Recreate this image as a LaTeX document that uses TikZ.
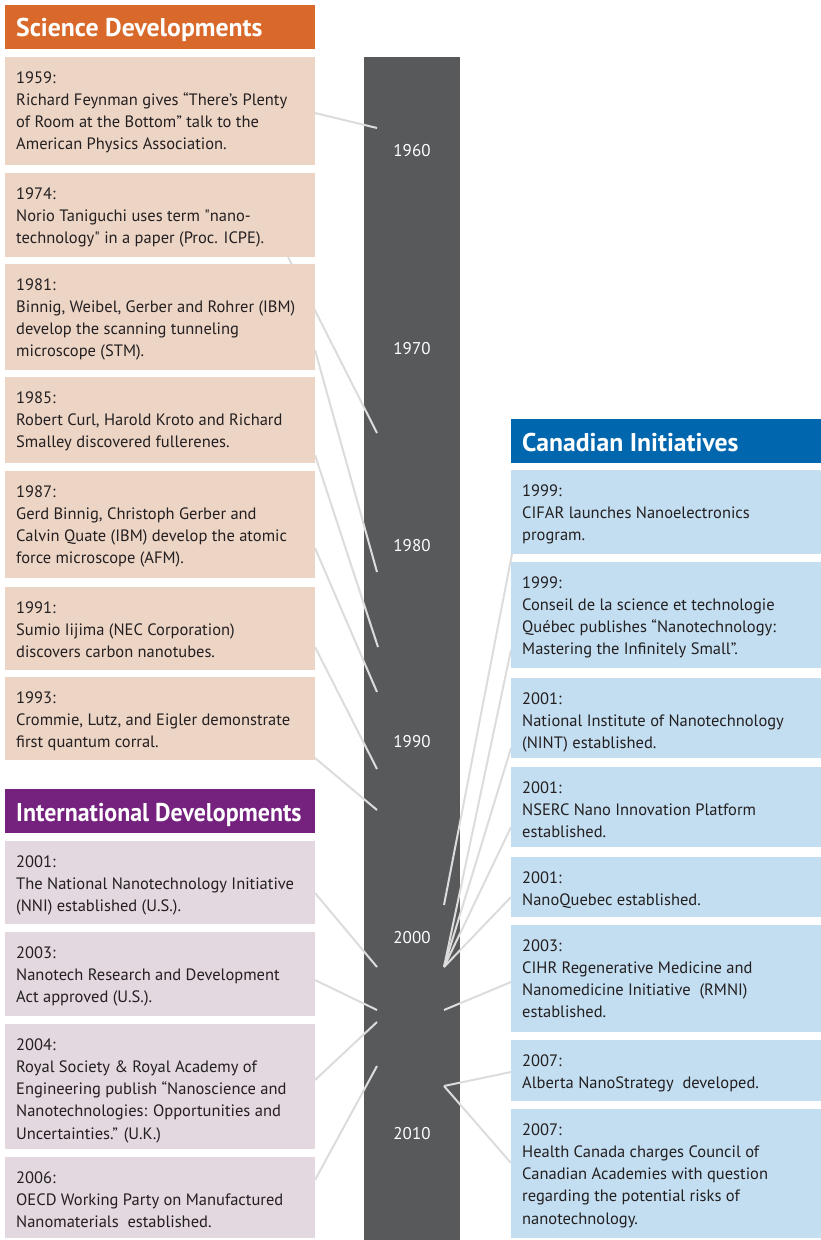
\documentclass[tikz,border=0pt]{standalone}
\usepackage{fontspec}
\setmainfont{PT Sans}
\usetikzlibrary{calc}
\definecolor{orangeH}{HTML}{D9692A}
\definecolor{peach}{HTML}{EDD5C6}
\definecolor{purpleH}{HTML}{74227E}
\definecolor{lilac}{HTML}{E3D7E0}
\definecolor{blueH}{HTML}{0066AD}
\definecolor{lightblue}{HTML}{C3DEF1}
\definecolor{barc}{HTML}{58595B}
\definecolor{connc}{HTML}{DCDCDC}
\definecolor{textc}{HTML}{231F20}
\newcommand\sq{{\addfontfeatures{Ligatures=TeXOff}"}}
\pgfdeclarelayer{bg}
\pgfdeclarelayer{lines}
\pgfsetlayers{bg,lines,main}
\tikzset{
  evbox/.style={anchor=north west, inner sep=0, outer sep=0, minimum width=310},
  scibox/.style={evbox, fill=peach},
  intbox/.style={evbox, fill=lilac},
  canbox/.style={evbox, fill=lightblue},
  headbox/.style={evbox, minimum height=44},
  headtxt/.style={anchor=base west, inner sep=0, text=white, font=\bfseries\fontsize{25.7}{30}\selectfont},
  body/.style={anchor=base west, inner sep=0, text=textc, font=\fontsize{16.5}{22.3}\selectfont},
  yearlab/.style={inner sep=0, text=white, font=\fontsize{17}{20}\selectfont},
  conn/.style={draw=connc, line width=2pt},
}
\newcommand\evbx[5]{\node[#2, minimum height={#5-#4}] (#1) at (#3,#4) {};
  \node[body] (#1t) at ([xshift=11,yshift=-26]#1.north west) {\begin{tabular}[t]{@{}l@{}}\evtxt\end{tabular}};}
\begin{document}
\begin{tikzpicture}[x=1pt,y=-1pt]
\useasboundingbox (0,0) rectangle (821,1240);
% bar
\begin{pgfonlayer}{bg}
\node[fill=barc, inner sep=0, minimum width=96, minimum height=1183] (bar) at (412,648.5) {};
\end{pgfonlayer}
\node[yearlab] (y1960) at (412,151) {1960};
\node[yearlab] (y1970) at (412,349) {1970};
\node[yearlab] (y1980) at (412,546) {1980};
\node[yearlab] (y1990) at (412,742) {1990};
\node[yearlab] (y2000) at (412,938) {2000};
\node[yearlab] (y2010) at (412,1134) {2010};
% headers
\node[headbox, fill=orangeH] (hsci) at (5,5) {};
\node[headtxt] (hscit) at (16,36) {Science Developments};
\node[headbox, fill=purpleH] (hint) at (5,789) {};
\node[headtxt] (hintt) at (16,821) {\scalebox{0.93}[1]{International Developments}};
\node[headbox, fill=blueH] (hcan) at (511,419) {};
\node[headtxt] (hcant) at (522,451) {Canadian Initiatives};
% science boxes
\def\evtxt{1959:\\Richard Feynman gives “There’s Plenty\\of Room at the Bottom” talk to the\\American Physics Association.}
\evbx{s1959}{scibox}{5}{57}{165}
\def\evtxt{1974:\\Norio Taniguchi uses term \sq nano-\\technology\sq{} in a paper (Proc. ICPE).}
\evbx{s1974}{scibox}{5}{173}{257}
\def\evtxt{1981:\\Binnig, Weibel, Gerber and Rohrer (IBM)\\develop the scanning tunneling\\microscope (STM).}
\evbx{s1981}{scibox}{5}{264}{370}
\def\evtxt{1985:\\Robert Curl, Harold Kroto and Richard\\Smalley discovered fullerenes.}
\evbx{s1985}{scibox}{5}{377}{463}
\def\evtxt{1987:\\Gerd Binnig, Christoph Gerber and\\Calvin Quate (IBM) develop the atomic\\force microscope (AFM).}
\evbx{s1987}{scibox}{5}{471}{578}
\def\evtxt{1991:\\Sumio Iijima (NEC Corporation)\\discovers carbon nanotubes.}
\evbx{s1991}{scibox}{5}{587}{670}
\def\evtxt{1993:\\Crommie, Lutz, and Eigler demonstrate\\first quantum corral.}
\evbx{s1993}{scibox}{5}{677}{760}
% international boxes
\def\evtxt{2001:\\The National Nanotechnology Initiative\\(NNI) established (U.S.).}
\evbx{i2001}{intbox}{5}{841}{924}
\def\evtxt{2003:\\Nanotech Research and Development\\Act approved (U.S.).}
\evbx{i2003}{intbox}{5}{932}{1016}
\def\evtxt{2004:\\Royal Society \& Royal Academy of\\Engineering publish “Nanoscience and\\Nanotechnologies: Opportunities and\\Uncertainties.” (U.K.)}
\evbx{i2004}{intbox}{5}{1024}{1149}
\def\evtxt{2006:\\OECD Working Party on Manufactured\\Nanomaterials\ \ established.}
\evbx{i2006}{intbox}{5}{1157}{1238}
% canadian boxes
\def\evtxt{1999:\\CIFAR launches Nanoelectronics\\program.}
\evbx{c1}{canbox}{511}{470}{554}
\def\evtxt{1999:\\Conseil de la science et technologie\\Québec publishes “Nanotechnology:\\Mastering the Infinitely Small”.}
\evbx{c2}{canbox}{511}{562}{668}
\def\evtxt{2001:\\National Institute of Nanotechnology\\(NINT) established.}
\evbx{c3}{canbox}{511}{678}{758}
\def\evtxt{2001:\\NSERC Nano Innovation Platform\\established.}
\evbx{c4}{canbox}{511}{767}{847}
\def\evtxt{2001:\\NanoQuebec established.}
\evbx{c5}{canbox}{511}{857}{917}
\def\evtxt{2003:\\CIHR Regenerative Medicine and\\Nanomedicine Initiative\ \ (RMNI)\\established.}
\evbx{c6}{canbox}{511}{925}{1032}
\def\evtxt{2007:\\Alberta NanoStrategy\ \ developed.}
\evbx{c7}{canbox}{511}{1040}{1101}
\def\evtxt{2007:\\Health Canada charges Council of\\Canadian Academies with question\\regarding the potential risks of\\nanotechnology.}
\evbx{c8}{canbox}{511}{1109}{1238}
% connector ends on the bar
\coordinate (t1959) at (377,128);
\coordinate (t1974) at (377,433);
\coordinate (t1981) at (377,572);
\coordinate (t1985) at (378,647);
\coordinate (t1987) at (377,692);
\coordinate (t1991) at (377,769);
\coordinate (t1993) at (377,810);
\coordinate (ti2001) at (377,967);
\coordinate (ti2003) at (377,1010);
\coordinate (ti2004) at (377,1022);
\coordinate (ti2006) at (377,1066);
\coordinate (tc1999) at (444,905);
\coordinate (tc2001) at (444,967);
\coordinate (tc2003) at (444,1010);
\coordinate (tc2007) at (444,1086);
\begin{pgfonlayer}{lines}
\draw[conn] ([yshift=-2]s1959.east) -- (t1959);
\draw[conn] ([xshift=-27]s1974.south east) -- (t1974);
\draw[conn] ([yshift=20]s1981.south east) -- (t1981);
\draw[conn] ([yshift=8]s1985.south east) -- (t1985);
\draw[conn] ([yshift=30]s1987.south east) -- (t1987);
\draw[conn] ([yshift=23]s1991.south east) -- (t1991);
\draw[conn] ([yshift=2]s1993.south east) -- (t1993);
\draw[conn] ([yshift=31]i2001.south east) -- (ti2001);
\draw[conn] ([yshift=36]i2003.south east) -- (ti2003);
\draw[conn] ([yshift=69]i2004.south east) -- (ti2004);
\draw[conn] ([yshift=58]i2006.south east) -- (ti2006);
\draw[conn] ([xshift=1]c1.south west) -- (tc1999);
\draw[conn] ([yshift=18]c2.south west) -- (tc2001);
\draw[conn] ([yshift=10]c3.south west) -- (tc2001);
\draw[conn] ([yshift=20]c4.south west) -- (tc2001);
\draw[conn] ([yshift=20]c5.south west) -- (tc2001);
\draw[conn] ([yshift=50]c6.south west) -- (tc2003);
\draw[conn] ([yshift=29]c7.south west) -- (tc2007);
\draw[conn] ([yshift=75]c8.south west) -- (tc2007);
\end{pgfonlayer}
\end{tikzpicture}
\end{document}
